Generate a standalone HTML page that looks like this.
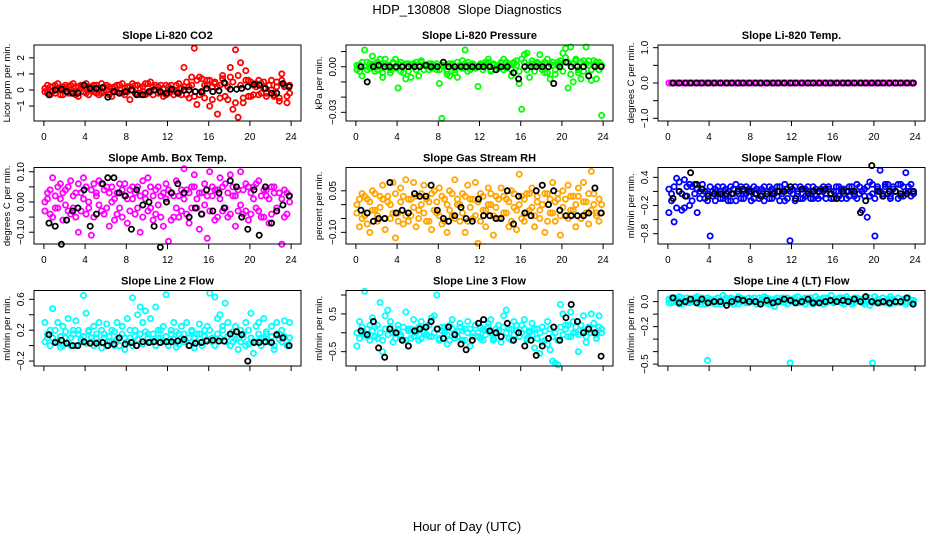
<!DOCTYPE html>
<html><head><meta charset="utf-8"><style>
html,body{margin:0;padding:0;background:#fff;}
svg{display:block;font-family:"Liberation Sans",Arial,sans-serif;}
</style></head><body>
<svg id="chart" width="936" height="540" viewBox="0 0 936 540">
<text x="467" y="14" text-anchor="middle" font-size="13">HDP_130808&#160; Slope Diagnostics</text>
<text x="467" y="531" text-anchor="middle" font-size="13">Hour of Day (UTC)</text>
</svg>
<script>
const hC=[0.1,0.35,0.6,0.85,1.1,1.35,1.6,1.85,2.1,2.35,2.6,2.85,3.1,3.35,3.6,3.85,4.1,4.35,4.6,4.85,5.1,5.35,5.6,5.85,6.1,6.35,6.6,6.85,7.1,7.35,7.6,7.85,8.1,8.35,8.6,8.85,9.1,9.35,9.6,9.85,10.1,10.35,10.6,10.85,11.1,11.35,11.6,11.85,12.1,12.35,12.6,12.85,13.1,13.35,13.6,13.85,14.1,14.35,14.6,14.85,15.1,15.35,15.6,15.85,16.1,16.35,16.6,16.85,17.1,17.35,17.6,17.85,18.1,18.35,18.6,18.85,19.1,19.35,19.6,19.85,20.1,20.35,20.6,20.85,21.1,21.35,21.6,21.85,22.1,22.35,22.6,22.85,23.1,23.35,23.6,23.85];
const hK=[0.5,1.1,1.7,2.2,2.8,3.3,3.9,4.5,5.1,5.7,6.2,6.8,7.3,7.9,8.5,9.0,9.6,10.2,10.7,11.3,11.9,12.4,13.0,13.6,14.1,14.7,15.3,15.8,16.4,17.0,17.5,18.1,18.7,19.2,19.8,20.4,20.9,21.5,22.1,22.6,23.2,23.8];
const xTicks=[0,4,8,12,16,20,24];

const co2A=[0.1,-0.2,0.2,-0.1,0.3,0.0,-0.3,0.2,0.1,-0.2,0.3,-0.1,0.2,-0.4,0.1,0.3,-0.2,0.2,0.0,-0.1,0.3,0.1,-0.2,0.2,0.0,-0.3,0.1,0.2,-0.1,0.3,-0.2,0.1,0.2,-0.6,0.0,0.3,-0.2,0.1,0.2,-0.3,0.4,-0.1,0.2,0.0,-0.2,0.3,0.1,-0.3,0.2,-0.1,0.0,0.3,-0.2,0.1,1.4,-0.3,0.2,0.8,2.6,-0.9,0.8,-0.2,0.3,0.6,-1.0,0.2,0.5,-1.5,0.3,0.9,-0.4,0.2,1.4,-1.2,2.5,-1.7,1.7,-0.8,1.2,0.6,-0.4,0.3,0.2,-0.3,0.4,0.1,-0.2,0.3,0.0,-0.4,0.2,-0.7,1.0,0.3,-0.8,-0.2];
const co2B=[-0.1,0.3,-0.3,0.2,-0.2,0.4,0.1,-0.3,0.3,0.2,-0.2,0.4,-0.3,0.2,0.3,-0.1,0.4,-0.3,0.2,0.3,-0.2,-0.3,0.4,-0.1,0.3,0.2,-0.4,-0.1,0.3,-0.2,0.4,-0.3,-0.1,0.2,0.4,-0.2,0.3,-0.3,-0.1,0.4,-0.2,0.5,-0.3,0.3,0.2,-0.2,-0.4,0.3,-0.2,0.3,-0.3,-0.1,0.4,-0.3,0.2,0.5,-0.5,0.3,-0.4,0.6,-0.3,0.7,-0.5,0.3,0.6,-0.6,0.4,0.2,-0.5,0.7,0.4,-0.6,0.8,0.5,-0.8,0.9,0.3,-0.5,0.6,-0.4,0.5,-0.3,0.4,0.6,-0.2,0.5,-0.4,0.3,0.6,-0.3,0.5,-0.5,0.6,0.2,-0.4,0.3];
const co2K=[-0.3,0.0,0.05,-0.1,-0.2,-0.2,0.3,0.1,0.1,0.15,-0.45,-0.1,-0.2,-0.1,0.0,-0.3,-0.3,-0.1,0.0,-0.1,-0.2,0.05,-0.2,0.0,0.0,-0.1,-0.1,0.1,-0.1,-0.05,0.45,0.05,0.05,0.1,0.2,0.35,0.3,0.1,-0.2,-0.2,0.4,0.2];

const presA=[-0.002,0.001,-0.006,0.011,0.003,-0.001,0.007,0.002,-0.002,0.005,-0.007,0.005,0.0,-0.004,0.002,0.005,-0.014,0.003,-0.004,-0.008,0.002,-0.007,0.001,0.003,-0.006,0.004,0.001,0.001,-0.002,0.002,0.0,-0.002,-0.011,-0.034,0.001,-0.005,-0.006,0.002,-0.004,-0.007,0.001,0.004,0.011,0.003,-0.002,0.001,0.0,-0.013,0.001,0.002,0.003,0.005,-0.003,0.002,-0.002,0.001,0.003,0.005,-0.001,0.002,-0.006,0.003,0.001,-0.011,-0.028,0.008,0.009,-0.007,0.002,0.001,0.003,0.008,0.002,-0.004,0.005,-0.008,0.001,-0.005,0.003,0.002,0.009,0.012,-0.014,0.013,-0.010,0.005,-0.004,-0.008,0.004,0.013,0.001,-0.009,0.004,-0.008,0.003,-0.032];
const presB=[0.001,-0.003,0.003,0.0,-0.002,0.002,0.001,-0.003,0.003,0.0,-0.004,0.002,0.001,-0.002,0.003,-0.001,0.002,-0.003,0.001,0.002,-0.003,0.001,0.002,-0.002,0.001,0.003,-0.002,0.0,0.002,-0.001,0.001,0.002,-0.002,0.001,0.0,-0.003,0.002,0.001,-0.002,0.003,0.0,-0.001,0.002,-0.003,0.001,0.002,-0.001,0.0,0.002,-0.002,0.001,0.003,-0.002,0.001,0.0,-0.001,0.002,-0.002,0.003,0.001,-0.002,0.002,0.004,-0.003,0.005,0.003,-0.002,0.001,0.004,-0.003,0.002,0.001,-0.002,0.003,-0.004,0.002,0.003,-0.002,0.001,0.004,-0.003,0.006,0.003,-0.005,0.002,0.004,-0.002,0.003,-0.003,0.002,0.004,-0.002,0.001,0.003,-0.002,0.001];
const presK=[0.0,-0.01,0.0,0.001,0.0,0.0,0.0,0.0,0.0,0.0,0.0,0.001,0.0,0.0,0.003,0.0,0.0,0.0,0.0,0.0,0.0,0.0,0.0,-0.002,0.0,0.0,-0.004,-0.008,0.0,0.0,0.0,0.0,0.0,-0.011,0.0,0.003,0.0,0.0,0.0,-0.006,0.0,0.0];

const tempA=[0,0,0,0,0,0,0,0,0,0,0,0,0,0,0,0,0,0,0,0,0,0,0,0,0,0,0,0,0,0,0,0,0,0,0,0,0,0,0,0,0,0,0,0,0,0,0,0,0,0,0,0,0,0,0,0,0,0,0,0,0,0,0,0,0,0,0,0,0,0,0,0,0,0,0,0,0,0,0,0,0,0,0,0,0,0,0,0,0,0,0,0,0,0,0,0];
const tempK=[0,0,0,0,0,0,0,0,0,0,0,0,0,0,0,0,0,0,0,0,0,0,0,0,0,0,0,0,0,0,0,0,0,0,0,0,0,0,0,0,0,0];

const ambA=[0.0,0.03,-0.04,0.08,-0.02,0.05,0.01,-0.06,0.04,-0.03,0.07,0.02,-0.05,-0.1,0.03,0.08,-0.04,0.0,-0.11,0.06,0.02,0.07,-0.03,0.04,0.05,-0.08,0.0,-0.06,0.03,0.06,-0.05,0.02,-0.07,0.04,0.01,-0.04,0.05,-0.1,0.07,0.03,0.08,-0.02,-0.06,0.04,0.05,0.02,-0.08,0.06,-0.13,0.03,-0.05,0.07,0.02,-0.03,0.11,0.04,-0.07,0.05,0.09,-0.02,-0.09,0.03,0.06,-0.12,0.10,0.05,-0.06,0.04,0.08,-0.03,0.06,-0.05,0.09,0.02,-0.08,0.04,0.10,-0.04,0.06,-0.06,0.03,0.05,-0.02,0.07,-0.05,0.04,0.02,-0.07,0.05,0.03,-0.03,0.03,-0.14,0.04,-0.04,0.02];
const ambB=[-0.03,0.01,0.04,-0.05,0.02,-0.02,0.06,0.03,-0.01,0.05,-0.04,-0.02,0.03,0.06,-0.03,0.01,0.05,-0.02,0.04,-0.05,0.03,-0.01,0.06,-0.04,-0.02,0.03,0.05,0.01,-0.04,-0.02,0.04,0.06,0.01,-0.03,0.05,0.03,-0.02,0.02,-0.05,0.01,-0.03,0.05,0.02,-0.04,-0.01,-0.05,0.03,0.01,0.04,-0.06,0.02,-0.02,-0.05,0.04,0.01,-0.04,0.03,-0.02,0.05,0.01,0.03,-0.04,-0.01,0.02,-0.03,0.02,0.04,-0.05,0.01,0.05,-0.02,0.03,-0.04,0.05,0.02,-0.03,-0.01,0.04,-0.03,0.05,-0.04,0.01,0.06,-0.03,0.02,-0.05,0.04,0.01,-0.04,0.05,-0.02,0.03,0.01,-0.05,0.03,0.0];
const ambK=[-0.07,-0.08,-0.14,-0.06,-0.03,-0.02,0.04,-0.08,-0.04,0.06,0.08,0.08,0.03,0.02,-0.09,0.04,-0.01,0.0,-0.08,-0.15,0.0,0.03,0.06,0.03,-0.05,-0.02,-0.04,0.04,-0.03,0.03,-0.02,0.07,0.05,-0.05,-0.09,0.04,-0.11,0.05,-0.07,-0.03,-0.01,0.02];

const rhA=[0.0,-0.08,0.04,-0.04,0.02,-0.1,0.05,-0.02,-0.06,0.03,0.07,-0.09,0.01,-0.05,0.08,-0.12,-0.03,0.06,-0.07,0.09,0.02,-0.04,0.08,-0.08,-0.02,0.04,0.07,-0.06,0.01,-0.09,0.05,-0.03,0.06,-0.07,0.02,-0.10,0.05,-0.04,0.09,0.0,-0.06,0.04,-0.1,0.07,0.02,-0.05,0.08,-0.14,0.04,-0.02,-0.08,0.06,0.0,-0.11,0.03,-0.05,0.06,-0.03,0.02,-0.08,0.05,-0.01,-0.09,0.11,0.03,-0.06,0.04,-0.02,0.06,-0.08,0.01,-0.05,0.07,-0.1,0.04,-0.03,0.08,-0.06,0.02,-0.11,0.05,-0.04,0.07,-0.02,0.03,-0.08,0.06,-0.05,0.08,0.01,-0.07,0.12,0.04,-0.03,-0.06,0.0];
const rhB=[-0.03,0.02,-0.05,0.03,-0.07,0.01,-0.02,0.04,-0.04,-0.01,0.02,-0.05,0.03,0.0,-0.03,0.04,-0.06,0.01,0.03,-0.04,-0.06,0.02,-0.01,0.03,-0.05,0.0,-0.03,0.02,-0.06,0.04,-0.02,0.01,-0.04,0.03,-0.06,0.0,-0.02,0.04,-0.05,0.02,0.0,-0.03,0.03,-0.06,-0.01,0.02,-0.04,0.01,-0.06,0.03,-0.02,0.0,0.04,-0.04,-0.01,0.02,-0.05,0.03,-0.03,0.01,-0.06,0.04,-0.02,0.0,-0.05,0.02,-0.03,0.04,-0.01,-0.04,0.03,-0.02,0.0,0.04,-0.06,0.02,-0.03,0.01,0.04,-0.04,-0.01,0.02,-0.05,0.03,-0.02,0.0,0.03,-0.05,0.01,-0.03,0.04,-0.02,0.0,-0.04,0.02,-0.03];
const rhK=[-0.02,-0.03,-0.06,-0.05,-0.05,0.08,-0.03,-0.02,-0.03,0.04,0.03,0.03,0.07,-0.02,-0.05,-0.06,-0.04,-0.01,-0.05,-0.06,0.02,-0.04,-0.04,-0.05,-0.05,0.05,-0.07,0.03,-0.03,-0.04,0.05,0.07,0.0,0.05,-0.02,-0.04,-0.04,-0.04,-0.04,-0.03,0.06,-0.03];

const sfA=[-0.35,0.05,-0.55,0.38,0.1,-0.3,0.35,0.2,-0.2,0.2,0.25,-0.35,0.1,0.15,-0.05,0.05,-0.85,0.1,0.15,0.05,-0.05,0.2,0.0,0.1,-0.1,0.15,0.25,0.05,-0.05,0.1,0.2,0.0,0.1,-0.05,0.15,0.1,0.0,0.2,0.05,-0.05,0.15,0.1,0.0,0.2,0.05,-0.1,0.15,-0.95,0.05,0.2,0.1,-0.05,0.15,0.0,0.2,0.05,-0.05,0.15,0.1,0.0,0.2,0.05,0.15,-0.05,0.1,0.2,0.0,0.15,0.05,-0.05,0.2,0.1,0.0,0.25,0.05,-0.3,0.15,0.2,0.0,0.25,-0.85,0.15,0.55,0.05,0.2,0.25,-0.05,0.15,0.1,0.25,0.0,0.2,0.5,0.1,0.25,0.05];
const sfB=[0.15,-0.1,0.2,-0.25,0.3,0.05,-0.25,0.0,0.25,-0.1,0.05,0.15,-0.05,0.25,0.1,-0.1,0.2,0.0,-0.1,0.2,0.1,-0.05,0.15,-0.1,0.2,0.05,-0.1,0.15,0.2,-0.05,0.05,0.15,-0.1,0.2,0.05,-0.05,0.15,-0.1,0.1,0.2,-0.05,0.05,0.2,-0.1,0.1,0.25,-0.05,0.1,0.15,-0.1,0.05,0.2,-0.05,0.15,0.1,-0.05,0.2,0.0,-0.05,0.15,0.1,-0.05,0.2,0.05,-0.05,0.1,0.2,-0.05,0.15,0.1,0.0,0.2,0.05,-0.05,0.2,0.1,0.0,-0.45,0.3,0.05,-0.05,0.2,0.1,0.0,0.25,0.05,0.0,0.2,0.1,-0.05,0.25,0.0,0.1,0.2,0.0,0.1];
const sfK=[-0.05,0.1,0.0,0.5,0.25,0.15,0.0,0.05,0.05,0.05,0.05,0.1,0.15,0.1,0.05,0.0,0.05,0.05,0.1,0.1,0.2,-0.05,0.15,0.05,0.1,0.1,0.15,0.05,-0.05,0.1,0.1,0.1,-0.35,-0.1,0.65,0.1,0.0,0.1,0.1,0.05,0.05,0.1];

const l2A=[0.3,0.1,0.2,0.48,0.05,0.3,-0.02,0.25,0.1,0.35,0.0,0.2,0.32,0.15,0.05,0.65,0.42,0.2,0.05,0.25,0.1,0.3,-0.03,0.15,0.28,0.05,0.2,0.0,0.3,0.1,0.25,-0.05,0.35,0.1,0.62,0.2,0.4,0.5,0.3,0.45,0.15,0.35,0.05,0.5,0.2,0.1,0.25,0.66,0.05,0.2,0.3,-0.02,0.15,0.25,0.05,0.3,0.1,0.2,-0.03,0.15,0.28,0.05,0.2,0.25,0.68,0.1,0.63,0.35,0.4,0.25,0.55,0.3,0.15,0.05,0.25,-0.05,0.2,0.1,0.3,0.02,0.42,0.05,0.25,0.3,0.1,0.35,0.15,0.05,0.25,-0.05,0.3,0.15,0.2,0.32,0.05,0.3];
const l2B=[0.05,0.15,0.0,0.1,0.2,0.05,0.12,0.0,0.18,0.05,0.1,0.15,0.0,0.2,0.08,0.12,0.03,0.18,0.1,0.0,0.15,0.05,0.2,0.1,0.0,0.12,0.05,0.18,0.08,0.0,0.15,0.1,0.05,0.2,0.0,0.12,0.08,0.15,0.02,0.18,0.1,0.05,0.15,0.0,0.1,0.2,0.05,0.12,0.0,0.15,0.08,0.18,0.02,0.1,0.15,0.05,0.0,0.18,0.1,0.05,0.15,0.0,0.12,0.08,0.2,0.05,0.0,0.15,0.1,0.2,0.05,0.12,0.0,0.18,0.08,0.1,0.05,0.15,0.0,0.2,0.1,-0.1,0.05,0.15,0.0,0.1,0.18,0.05,0.12,0.0,0.15,0.08,0.05,0.12,0.0,0.1];
const l2K=[0.14,0.04,0.07,0.03,0.0,0.0,0.05,0.03,0.03,0.04,0.0,0.02,0.1,0.02,0.04,0.0,0.05,0.04,0.05,0.04,0.05,0.05,0.06,0.08,0.0,0.03,0.04,0.06,0.07,0.06,0.06,0.15,0.18,0.14,-0.2,0.04,0.04,0.05,0.04,0.14,0.1,0.0];

const l3A=[-0.35,0.3,0.0,1.1,-0.1,0.2,0.4,0.15,-0.15,0.8,-0.5,0.45,0.6,0.3,-0.25,0.0,0.2,-0.1,-0.2,0.55,0.1,-0.15,0.35,0.05,-0.2,0.3,0.0,0.15,-0.1,0.4,0.45,1.0,-0.2,0.15,0.0,-0.3,0.2,0.35,-0.15,0.05,0.25,-0.2,0.1,0.3,-0.35,0.0,0.2,-0.1,0.15,-0.2,0.05,0.25,0.35,-0.15,0.0,0.2,-0.25,0.45,0.6,0.1,-0.2,0.3,0.05,-0.1,0.2,0.35,-0.15,0.0,0.25,-0.4,0.1,-0.55,0.15,-0.2,0.3,-0.45,-0.75,-0.8,-0.85,0.75,0.5,0.2,-0.1,0.55,0.3,0.0,-0.5,0.2,0.45,-0.25,0.1,0.5,0.25,-0.15,0.45,0.1];
const l3B=[0.0,-0.15,0.15,-0.05,0.1,-0.2,0.05,-0.1,0.2,0.0,-0.2,0.1,-0.05,0.15,0.0,-0.15,0.1,-0.05,0.15,-0.2,0.05,0.1,-0.1,0.0,0.15,-0.15,0.05,-0.05,0.2,-0.1,0.0,0.1,-0.15,0.05,0.15,-0.05,-0.2,0.1,0.0,-0.1,0.15,0.05,-0.2,0.0,0.1,-0.1,0.2,0.0,-0.15,0.1,-0.05,0.15,0.0,-0.2,0.1,0.05,-0.1,0.15,0.0,-0.15,0.1,-0.05,0.2,-0.1,0.0,0.1,-0.2,0.05,-0.05,0.1,-0.15,0.0,-0.25,0.05,-0.3,0.1,-0.1,0.0,-0.2,0.15,-0.05,0.1,0.2,-0.1,0.0,0.15,-0.05,0.2,0.05,-0.1,0.15,0.0,0.1,-0.05,0.15,0.0];
const l3K=[0.05,-0.05,0.3,-0.4,-0.65,0.1,0.0,-0.2,-0.35,0.05,0.1,0.15,0.3,0.1,-0.15,0.15,-0.05,-0.3,-0.45,-0.2,0.25,0.35,0.05,0.0,-0.1,0.25,-0.2,0.0,-0.35,-0.2,-0.6,-0.35,-0.15,0.15,-0.2,0.4,0.75,0.3,0.0,0.1,0.0,-0.62];

const l4A=[0.02,-0.01,0.03,0.0,0.04,-0.02,0.01,0.03,-0.01,0.02,0.0,0.04,-0.02,0.03,0.01,-0.47,0.02,0.0,-0.02,0.03,0.01,0.05,-0.01,0.02,0.03,-0.02,0.01,0.04,0.0,0.02,-0.01,0.03,0.02,0.0,-0.02,0.03,0.01,0.04,-0.01,0.02,0.0,-0.04,0.03,0.01,0.02,-0.01,0.03,-0.49,0.02,0.0,0.04,-0.01,0.02,0.03,0.0,0.01,-0.02,0.04,0.02,0.0,0.03,-0.01,0.02,0.05,0.0,0.01,0.03,-0.01,0.02,0.04,0.0,-0.02,0.03,0.01,0.02,-0.01,0.03,0.0,-0.03,-0.49,0.04,0.02,0.0,0.03,-0.01,0.02,0.04,0.01,-0.01,0.03,0.0,0.02,-0.02,0.03,0.01,0.0];
const l4B=[-0.01,0.03,0.0,0.02,-0.02,0.03,0.0,-0.01,0.02,0.0,0.03,-0.01,0.02,0.0,-0.02,0.03,0.01,-0.01,0.02,0.0,-0.02,0.01,0.03,0.0,-0.01,0.02,0.0,-0.02,0.03,0.01,0.0,-0.01,0.02,0.03,0.0,-0.01,0.02,0.0,0.03,-0.02,0.01,0.02,-0.01,0.0,0.03,0.01,-0.02,0.02,0.0,0.03,-0.01,0.01,0.0,-0.02,0.02,0.03,0.0,-0.01,0.01,0.02,-0.02,0.03,0.0,0.01,-0.01,0.02,0.0,0.03,-0.02,0.01,0.02,0.0,-0.01,0.03,0.01,0.0,-0.02,0.02,0.03,-0.01,0.0,0.02,-0.01,0.03,0.0,0.01,-0.02,0.02,0.0,0.03,-0.01,0.01,0.0,0.02,-0.01,0.01];
const l4K=[0.03,-0.01,0.0,0.02,-0.01,0.02,-0.01,0.0,0.0,-0.03,0.0,0.02,0.01,0.0,0.0,-0.02,0.01,-0.01,0.0,0.02,0.01,-0.01,0.0,0.02,-0.01,-0.01,0.0,0.01,0.0,0.01,0.0,0.02,0.0,0.04,0.0,-0.01,0.0,-0.01,0.0,0.0,0.03,-0.02];

const panels=[
 {name:'co2',title:'Slope Li-820 CO2',yt:'Licor ppm per min.',col:'#ff0000',a:co2A,b:co2B,k:co2K,left:34,top:45,bottom:121,ymin:-1.93,ymax:2.8,ticks:[-1,0,1,2],labels:['\u22121','0','1','2'],xl:true},
 {name:'pressure',title:'Slope Li-820 Pressure',yt:'kPa per min.',col:'#00ff00',a:presA,b:presB,k:presK,left:346,top:45,bottom:121,ymin:-0.0357,ymax:0.0143,ticks:[-0.03,-0.02,-0.01,0,0.01],labels:['\u22120.03','','','0.00',''],xl:true},
 {name:'temp',title:'Slope Li-820 Temp.',yt:'degrees C per min.',col:'#ff00ff',a:tempA,b:null,k:tempK,left:658,top:45,bottom:121,ymin:-1.076,ymax:1.076,ticks:[-1,-0.5,0,0.5,1],labels:['\u22121.0','','0.0','','1.0'],xl:true},
 {name:'amb-temp',title:'Slope Amb. Box Temp.',yt:'degrees C per min.',col:'#ff00ff',a:ambA,b:ambB,k:ambK,left:34,top:167.5,bottom:244,ymin:-0.139,ymax:0.114,ticks:[-0.1,-0.05,0,0.05,0.1],labels:['\u22120.10','','0.00','','0.10'],xl:true},
 {name:'gas-rh',title:'Slope Gas Stream RH',yt:'percent per min.',col:'#ffa500',a:rhA,b:rhB,k:rhK,left:346,top:167.5,bottom:244,ymin:-0.142,ymax:0.134,ticks:[-0.1,-0.05,0,0.05],labels:['\u22120.10','','','0.05'],xl:true},
 {name:'sample-flow',title:'Slope Sample Flow',yt:'ml/min per min.',col:'#0000ff',a:sfA,b:sfB,k:sfK,left:658,top:167.5,bottom:244,ymin:-1.02,ymax:0.61,ticks:[-0.8,-0.5,-0.2,0.1,0.4],labels:['\u22120.8','','\u22120.2','','0.4'],xl:true},
 {name:'line2-flow',title:'Slope Line 2 Flow',yt:'ml/min per min.',col:'#00ffff',a:l2A,b:l2B,k:l2K,left:34,top:290.5,bottom:366,ymin:-0.264,ymax:0.714,ticks:[-0.2,0,0.2,0.4,0.6],labels:['\u22120.2','','0.2','','0.6'],xl:false},
 {name:'line3-flow',title:'Slope Line 3 Flow',yt:'ml/min per min.',col:'#00ffff',a:l3A,b:l3B,k:l3K,left:346,top:290.5,bottom:366,ymin:-0.88,ymax:1.12,ticks:[-0.5,0,0.5,1.0],labels:['\u22120.5','','0.5',''],xl:false},
 {name:'line4-flow',title:'Slope Line 4 (LT) Flow',yt:'ml/min per min.',col:'#00ffff',a:l4A,b:l4B,k:l4K,left:658,top:290.5,bottom:366,ymin:-0.515,ymax:0.089,ticks:[-0.5,-0.4,-0.3,-0.2,-0.1,0],labels:['\u22120.5','','','\u22120.2','','0.0'],xl:false}
];
const NS='http://www.w3.org/2000/svg';
const svg=document.getElementById('chart');
const W=267;
function mk(tag,attrs,parent){const e=document.createElementNS(NS,tag);for(const k in attrs)e.setAttribute(k,attrs[k]);parent.appendChild(e);return e;}
panels.forEach(p=>{
 const g=mk('g',{},svg);
 
 
 const xs=h=>p.left+W*((h+0.96)/25.92);
 const ys=v=>p.bottom-(p.bottom-p.top)*((v-p.ymin)/(p.ymax-p.ymin));
 const cx=p.left+W/2;
 const t=mk('text',{x:cx,y:p.top-6,'text-anchor':'middle','font-size':'11','font-weight':'bold'},g);
 t.textContent=p.title;
 
 
 const dot=(h,v,c,nm)=>{const el=mk('circle',{cx:xs(h).toFixed(1),cy:ys(v).toFixed(1),r:2.6,fill:'none',stroke:c,'stroke-width':1.8},g);
  
  };
 p.a.forEach((v,i)=>{if(hC[i]!==undefined)dot(hC[i],v,p.col,p.name+'-point');});
 if(p.b)p.b.forEach((v,i)=>{if(hC[i]!==undefined)dot(hC[i],v,p.col,p.name+'-point');});
 p.k.forEach((v,i)=>{if(hK[i]!==undefined)dot(hK[i],v,'#000',p.name+'-mean-point');});
 const box=mk('rect',{x:p.left,y:p.top,width:W,height:p.bottom-p.top,fill:'none',stroke:'#000','stroke-width':1},g);
 
 
 xTicks.forEach(h=>{
  mk('line',{x1:xs(h),x2:xs(h),y1:p.bottom,y2:p.bottom+5,stroke:'#000'},g);
  if(p.xl){const l=mk('text',{x:xs(h),y:p.bottom+19,'text-anchor':'middle','font-size':'10'},g);l.textContent=h;
   
   }
 });
 mk('line',{x1:p.left,x2:p.left,y1:ys(p.ticks[0]),y2:ys(p.ticks[p.ticks.length-1]),stroke:'#000'},g);
 p.ticks.forEach((v,i)=>{
  mk('line',{x1:p.left-5,x2:p.left,y1:ys(v),y2:ys(v),stroke:'#000'},g);
  if(p.labels[i]){const y=ys(v);const l=mk('text',{x:p.left-10,y:y,'text-anchor':'middle','font-size':'10',transform:`rotate(-90 ${p.left-10} ${y})`},g);l.textContent=p.labels[i];
   
   }
 });
 const my=(p.top+p.bottom)/2;
 const yt=mk('text',{x:p.left-24,y:my,'text-anchor':'middle','font-size':'9.5',transform:`rotate(-90 ${p.left-24} ${my})`},g);
 yt.textContent=p.yt;
 
 
});
</script>
</body></html>
